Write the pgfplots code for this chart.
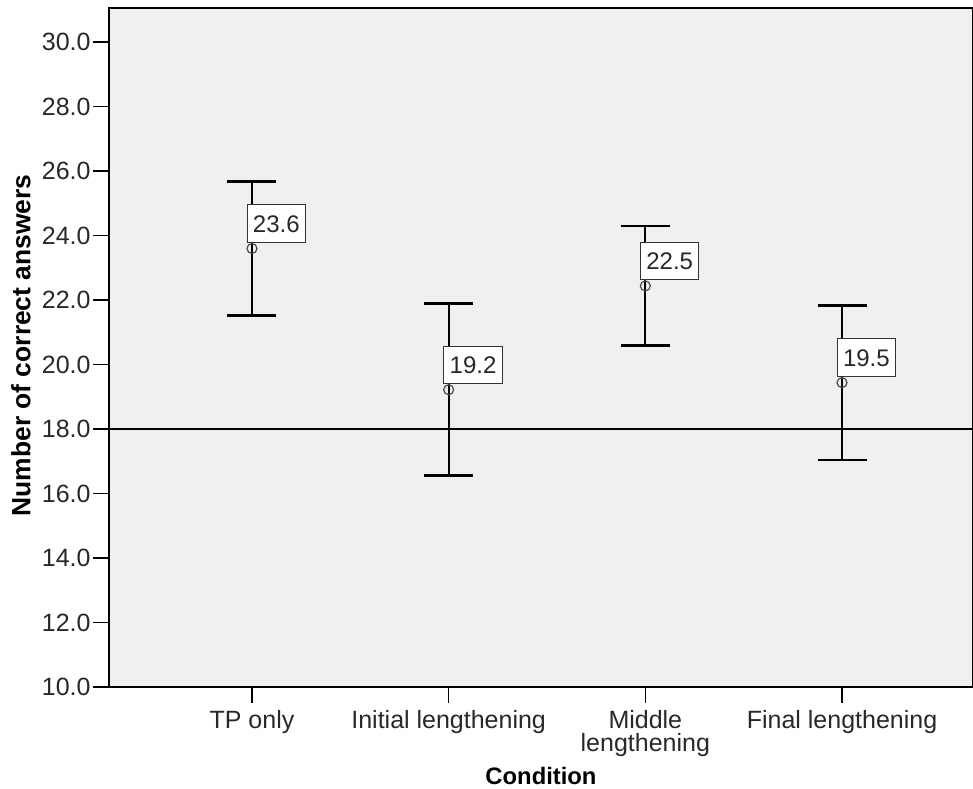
\documentclass[border=0pt]{standalone}
\usepackage{pgfplots}
\usepackage{pgfplotstable}
\pgfplotsset{compat=1.18}
\usepackage{fontspec}
\setmainfont{Liberation Sans}
\definecolor{bgc}{RGB}{240,240,240}
\definecolor{txt}{RGB}{40,40,40}
\pgfplotstableread{
x m e lab
0 23.60 2.09 23.6
1 19.22 2.67 19.2
2 22.44 1.86 22.5
3 19.44 2.40 19.5
}\data
\begin{document}
\begin{tikzpicture}
\begin{axis}[
  name=ax,
  set layers,
  scale only axis,
  width=432bp, height=339.5bp,
  xmin=-0.727, xmax=3.666,
  ymin=10, ymax=31.06,
  axis background/.style={fill=bgc},
  axis line style={line width=0.75bp, black},
  tick pos=left,
  tick align=outside,
  major tick length=8bp,
  tick style={line width=0.75bp, black},
  xtick={0,1,2,3},
  xticklabels={TP only, Initial lengthening, {Middle\\lengthening}, Final lengthening},
  ytick={10,12,...,30},
  /pgf/number format/assume math mode=true,
  yticklabel style={/pgf/number format/fixed, /pgf/number format/fixed zerofill, /pgf/number format/precision=1},
  tick label style={font=\fontsize{12.5bp}{11.5bp}\selectfont, text=txt},
  yticklabel style={inner xsep=1bp},
  xticklabel style={align=center, inner ysep=3.5bp},
  ylabel={Number of correct answers},
  xlabel={Condition},
  ylabel style={font=\fontsize{13.2bp}{15bp}\selectfont\bfseries, at={(axis description cs:-0.1019,0.503)}, anchor=center},
  xlabel style={font=\fontsize{11.9bp}{15bp}\selectfont\bfseries, at={(axis description cs:0.5,-0.1311)}, anchor=center},
  clip=false,
]
\addplot[black, line width=0.6bp, mark=none] coordinates {(-0.727,18) (3.666,18)};
\addplot[on layer=pre main, only marks, mark=none, nodes near coords, point meta=explicit symbolic,
  every node near coord/.style={anchor=south west, xshift=-2.65bp, yshift=3bp,
    fill=white, draw=black!80, line width=0.5bp, inner xsep=2.9bp, inner ysep=5bp,
    text height=8.6bp, text depth=0pt, font=\fontsize{12bp}{14bp}\selectfont, text=txt}]
  table[x=x, y=m, meta=lab]{\data};
\addplot[only marks, mark=o, mark size=2.5bp, mark options={draw=black!70, line width=0.6bp},
  error bars/.cd, y dir=both, y explicit,
  error bar style={line width=1bp, black},
  error mark options={line width=1.4bp, mark size=12.25bp, black, rotate=90}]
  table[x=x, y=m, y error=e]{\data};
\end{axis}
\pgfresetboundingbox
\path[use as bounding box] ([xshift=-54.5bp,yshift=-51bp]ax.south west) rectangle ([yshift=4bp]ax.north east);
\end{tikzpicture}
\end{document}
